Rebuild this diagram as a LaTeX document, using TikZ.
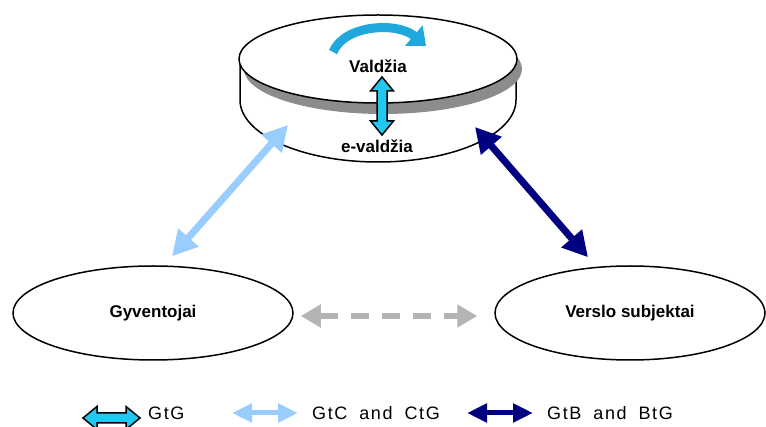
\documentclass[tikz,border=0pt]{standalone}
\usepackage{fontspec}
\setmainfont{Liberation Sans}
\newfontfamily\legendfont[LetterSpace=9,WordSpace=1.8]{Liberation Sans}
\usetikzlibrary{arrows.meta,shapes.geometric,calc}

\definecolor{gtgfill}{HTML}{22C8F0}
\definecolor{gtclight}{HTML}{99CCFF}
\definecolor{gtbnavy}{HTML}{000080}
\definecolor{peergray}{HTML}{B4B4B4}
\definecolor{swirlblue}{HTML}{20A8DC}
\definecolor{rimgray}{HTML}{8C8C8C}

\begin{document}
\begin{tikzpicture}[x=1pt,y=-1pt,
  outline/.style={draw=black,line width=1.5pt},
  party/.style={outline,ellipse,fill=white,minimum width=280pt,minimum height=94pt,inner sep=0pt},
  lbl/.style={font=\fontsize{17}{20}\selectfont\bfseries,inner sep=0pt},
  leg/.style={font=\legendfont\fontsize{18}{21}\selectfont,inner sep=0pt,anchor=west},
  flowC/.style={gtclight,line width=7pt,{Triangle[length=25pt,width=26pt]}-{Triangle[length=25pt,width=26pt]}},
  flowB/.style={gtbnavy,line width=7pt,{Triangle[length=25pt,width=26pt]}-{Triangle[length=25pt,width=26pt]}},
  flowP/.style={peergray,line width=6pt,dash pattern=on 18pt off 13pt,{Triangle[length=20pt,width=22pt]}-{Triangle[length=20pt,width=22pt]}},
  legC/.style={gtclight,line width=5pt,{Triangle[length=20pt,width=18pt]}-{Triangle[length=20pt,width=18pt]}},
  legB/.style={gtbnavy,line width=5pt,{Triangle[length=20pt,width=18pt]}-{Triangle[length=20pt,width=18pt]}},
  blockarrow/.style={draw=black,line width=1.5pt,fill=gtgfill,line join=miter}
]
\useasboundingbox (0,0) rectangle (766,427);

% ---- government disc: lower body, grey rim, upper face ----
\draw[outline,fill=white] (240,62) -- (240,100)
  arc[start angle=180,end angle=0,x radius=138,y radius=62] -- (516,62);
\fill[rimgray] (383,69) ellipse[x radius=139,y radius=45];
\node[outline,ellipse,fill=white,minimum width=278pt,minimum height=88pt,inner sep=0pt] (gov) at (378,59) {};

% circular arrow on the upper face
\draw[swirlblue,line width=9pt,-{Triangle[length=16pt,width=26pt]}]
  (333,52) .. controls (345,24) and (398,22) .. (426,46);

\node[lbl] (valdzia) at (378,66) {Valdžia};
\node[lbl] (evaldzia) at (377,146) {e-valdžia};

% vertical GtG block arrow between the two levels
\draw[blockarrow] (382,77) -- (393.5,91) -- (387,91) -- (387,121) -- (393.5,121)
  -- (382,135) -- (370.5,121) -- (377,121) -- (377,91) -- (370.5,91) -- cycle;

% ---- citizens and businesses ----
\node[party] (gyv) at (153,313) {};
\node[lbl] at (gyv.center) {Gyventojai};
\node[party,minimum width=270pt] (vers) at (630,313) {};
\node[lbl] at (vers.center) {Verslo subjektai};

% ---- relations ----
\coordinate (cTop) at ($(gov.center)+(-90,66)$);
\coordinate (cBot) at ($(gyv.north)+(19,-9)$);
\coordinate (bTop) at ($(gov.center)+(97,68)$);
\coordinate (bBot) at ($(vers.north)+(-42,-8)$);
\coordinate (pL) at ($(gyv.east)+(7,3)$);
\coordinate (pR) at ($(vers.west)+(-17,3)$);

\draw[flowC] (cBot) -- (cTop);
\draw[flowB] (bTop) -- (bBot);
\draw[flowP] (pL) -- (pR);

% ---- legend ----
\draw[blockarrow] (83,418) -- (97,406.5) -- (97,413) -- (126,413) -- (126,406.5)
  -- (140,418) -- (126,429.5) -- (126,423) -- (97,423) -- (97,429.5) -- cycle;
\node[leg] (lgG) at (148,413) {GtG};

\coordinate (lcL) at (232,413);
\coordinate (lcR) at (298,413);
\draw[legC] (lcL) -- (lcR);
\node[leg] (lgC) at (312,413) {GtC and CtG};

\coordinate (lbL) at (467,413);
\coordinate (lbR) at (533,413);
\draw[legB] (lbL) -- (lbR);
\node[leg] (lgB) at (547,413) {GtB and BtG};
\end{tikzpicture}
\end{document}
